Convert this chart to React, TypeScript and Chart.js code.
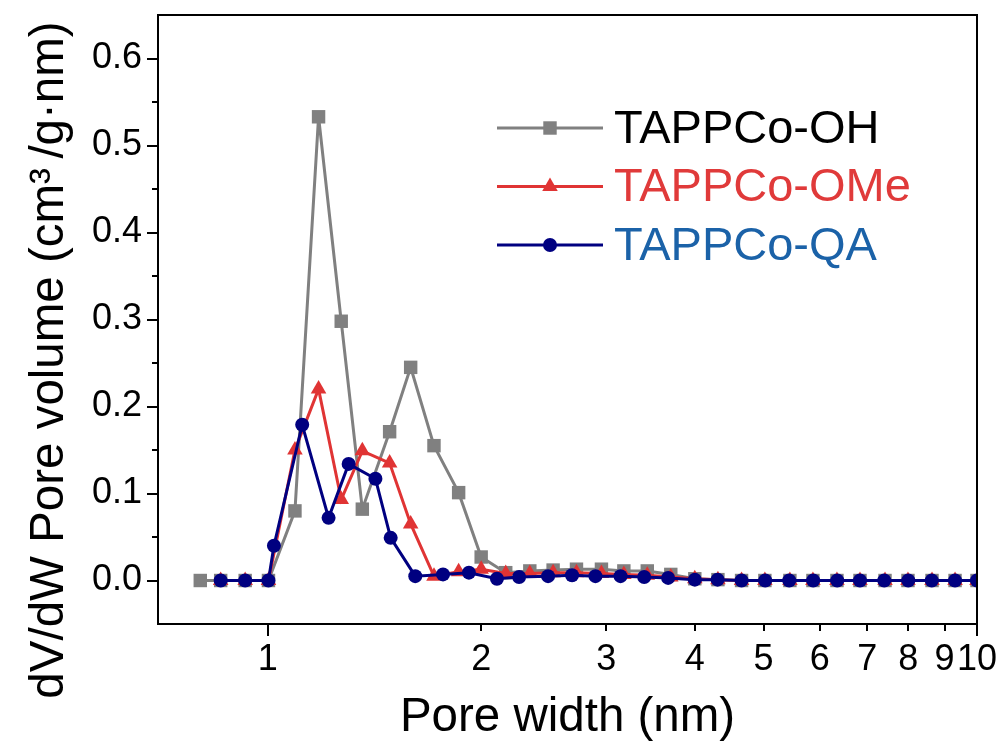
import { useEffect, useRef } from 'react';
import { Chart, registerables } from 'chart.js';

Chart.register(...registerables);

// Pore width (nm) and dV/dW (cm³/g·nm) for each sample
const poreWidthOH = [0.803, 0.858, 0.929, 1.002, 1.092, 1.179, 1.269, 1.359, 1.485, 1.59, 1.715, 1.858, 1.999, 2.165, 2.341, 2.525, 2.724, 2.954, 3.177, 3.428, 3.7, 4.0, 4.312, 4.656, 5.022, 5.447, 5.87, 6.346, 6.839, 7.418, 7.992, 8.641, 9.312, 10.0];
const dvOH = [0, 0, 0, 0, 0.08, 0.533, 0.298, 0.082, 0.171, 0.245, 0.155, 0.101, 0.027, 0.009, 0.011, 0.012, 0.013, 0.013, 0.011, 0.011, 0.007, 0.002, 0.001, 0, 0, 0, 0, 0, 0, 0, 0, 0, 0, 0];

const poreWidthOMe = [0.858, 0.929, 1.002, 1.092, 1.179, 1.269, 1.359, 1.485, 1.59, 1.715, 1.858, 1.999, 2.165, 2.341, 2.525, 2.724, 2.954, 3.177, 3.428, 3.7, 4.0, 4.312, 4.656, 5.022, 5.447, 5.87, 6.346, 6.839, 7.418, 7.992, 8.641, 9.312, 10.0];
const dvOMe = [0, 0, 0, 0.15, 0.22, 0.093, 0.149, 0.135, 0.065, 0.005, 0.01, 0.013, 0.008, 0.008, 0.009, 0.009, 0.008, 0.007, 0.006, 0.004, 0.002, 0.001, 0, 0, 0, 0, 0, 0, 0, 0, 0, 0, 0];

const poreWidthQA = [0.858, 0.929, 1.002, 1.02, 1.118, 1.218, 1.3, 1.418, 1.49, 1.614, 1.766, 1.921, 2.104, 2.261, 2.484, 2.685, 2.897, 3.143, 3.394, 3.668, 4.0, 4.307, 4.656, 5.027, 5.435, 5.875, 6.352, 6.838, 7.4, 8.0, 8.634, 9.312, 10.0];
const dvQA = [0, 0, 0, 0.04, 0.179, 0.072, 0.134, 0.117, 0.049, 0.005, 0.007, 0.009, 0.002, 0.004, 0.005, 0.006, 0.005, 0.005, 0.004, 0.003, 0.001, 0.001, 0, 0, 0, 0, 0, 0, 0, 0, 0, 0, 0];

const seriesNames = ['TAPPCo-OH', 'TAPPCo-OMe', 'TAPPCo-QA'];
const legendTextColors = ['#000000', '#E03A3A', '#1B62A8'];

const xTickValues = [1, 2, 3, 4, 5, 6, 7, 8, 9, 10];
const yTickValues = [0, 0.1, 0.2, 0.3, 0.4, 0.5, 0.6];
const yMinorTickValues = [0.05, 0.15, 0.25, 0.35, 0.45, 0.55];

const yTitle = 'dV/dW Pore volume (cm\u00B3\u2009/g·nm)';
const xTitle = 'Pore width (nm)';

const SANS = "'Liberation Sans', Arial, sans-serif";

const toPoints = (xs: number[], ys: number[]) => xs.map((x, i) => ({ x, y: ys[i] }));

function drawMarker(ctx: CanvasRenderingContext2D, style: string, x: number, y: number, r: number) {
  ctx.beginPath();
  if (style === 'rect') {
    const h = Math.SQRT1_2 * r;
    ctx.rect(x - h, y - h, 2 * h, 2 * h);
  } else if (style === 'triangle') {
    ctx.moveTo(x, y - r);
    ctx.lineTo(x + r * Math.sin((2 * Math.PI) / 3), y + r / 2);
    ctx.lineTo(x - r * Math.sin((2 * Math.PI) / 3), y + r / 2);
    ctx.closePath();
  } else {
    ctx.arc(x, y, r, 0, Math.PI * 2);
  }
  ctx.fill();
}

// Box frame plus outward major/minor tick marks
const framePlugin = {
  id: 'frameTicks',
  afterDraw(chart: any) {
    const { ctx, chartArea, scales } = chart;
    const { left, right, top, bottom } = chartArea;
    ctx.save();
    ctx.strokeStyle = '#000';
    ctx.lineWidth = 2;
    ctx.beginPath();
    ctx.moveTo(left, bottom);
    ctx.lineTo(left, top);
    ctx.lineTo(right, top);
    ctx.lineTo(right, bottom);
    ctx.closePath();
    ctx.stroke();
    ctx.beginPath();
    yTickValues.forEach((v) => {
      const py = Math.round(scales.y.getPixelForValue(v));
      ctx.moveTo(left - 11, py);
      ctx.lineTo(left, py);
    });
    yMinorTickValues.forEach((v) => {
      const py = Math.round(scales.y.getPixelForValue(v));
      ctx.moveTo(left - 6, py);
      ctx.lineTo(left, py);
    });
    xTickValues.forEach((v) => {
      const px = Math.round(scales.x.getPixelForValue(v));
      const len = v === 1 || v === 10 ? 12 : 7;
      ctx.moveTo(px, bottom);
      ctx.lineTo(px, bottom + len);
    });
    ctx.stroke();
    ctx.restore();
  },
};

// Rotated y-axis title
const yTitlePlugin = {
  id: 'yTitle',
  afterDraw(chart: any, _args: any, opts: any) {
    const { ctx } = chart;
    ctx.save();
    ctx.translate(opts.x, opts.y);
    ctx.rotate(-Math.PI / 2);
    ctx.font = `${opts.size}px ${SANS}`;
    ctx.fillStyle = '#000';
    ctx.textAlign = 'center';
    ctx.textBaseline = 'middle';
    ctx.fillText(opts.text, 0, 0);
    ctx.restore();
  },
};

// Legend: line segment with centred marker and coloured label
const legendPlugin = {
  id: 'lineLegend',
  afterDraw(chart: any, _args: any, opts: any) {
    const { ctx } = chart;
    ctx.save();
    chart.data.datasets.forEach((ds: any, i: number) => {
      const y = opts.top + i * opts.rowGap;
      ctx.strokeStyle = ds.borderColor;
      ctx.lineWidth = ds.borderWidth;
      ctx.beginPath();
      ctx.moveTo(opts.lineStart, y);
      ctx.lineTo(opts.lineEnd, y);
      ctx.stroke();
      ctx.fillStyle = ds.backgroundColor;
      drawMarker(ctx, ds.pointStyle, (opts.lineStart + opts.lineEnd) / 2, y, ds.pointRadius);
      ctx.fillStyle = legendTextColors[i];
      ctx.font = `${opts.size}px ${SANS}`;
      ctx.textAlign = 'left';
      ctx.textBaseline = 'middle';
      ctx.fillText(ds.label, opts.textX, y + 2);
    });
    ctx.restore();
  },
};

export default function App() {
  const canvasRef = useRef<HTMLCanvasElement | null>(null);

  useEffect(() => {
    if (!canvasRef.current) return;
    const chart = new Chart(canvasRef.current, {
      type: 'line',
      data: {
        datasets: [
          {
            label: seriesNames[0],
            data: toPoints(poreWidthOH, dvOH),
            borderColor: '#808080',
            backgroundColor: '#808080',
            pointStyle: 'rect',
            pointRadius: 9.5,
            pointBorderWidth: 0,
            borderWidth: 3,
            order: 3,
          },
          {
            label: seriesNames[1],
            data: toPoints(poreWidthOMe, dvOMe),
            borderColor: '#E03434',
            backgroundColor: '#E03434',
            pointStyle: 'triangle',
            pointRadius: 9,
            pointBorderWidth: 0,
            borderWidth: 3,
            order: 2,
          },
          {
            label: seriesNames[2],
            data: toPoints(poreWidthQA, dvQA),
            borderColor: '#000080',
            backgroundColor: '#000080',
            pointStyle: 'circle',
            pointRadius: 7,
            pointBorderWidth: 0,
            borderWidth: 3,
            order: 1,
          },
        ],
      },
      options: {
        responsive: false,
        animation: false,
        layout: { padding: { top: 15, right: 24, left: 0, bottom: 0 } },
        plugins: {
          legend: { display: false },
          tooltip: { enabled: false },
          yTitle: { text: yTitle, x: 50, y: 360, size: 47.5 },
          lineLegend: { top: 128, rowGap: 58.5, lineStart: 497, lineEnd: 603, textX: 614, size: 47 },
        } as any,
        scales: {
          x: {
            type: 'logarithmic',
            min: 0.7,
            max: 10,
            afterBuildTicks: (s: any) => {
              s.ticks = xTickValues.map((v) => ({ value: v }));
            },
            afterFit: (s: any) => {
              s.height = 129;
              s.paddingLeft = 0;
              s.paddingRight = 0;
            },
            ticks: {
              callback: (v: any) => String(v),
              autoSkip: false,
              maxRotation: 0,
              minRotation: 0,
              padding: 14,
              color: '#000',
              font: { family: SANS, size: 36 },
            },
            grid: { display: false, drawTicks: false },
            border: { display: false },
            title: {
              display: true,
              text: xTitle,
              color: '#000',
              font: { family: SANS, size: 47.5 },
              padding: { top: 0, bottom: 7 },
            },
          },
          y: {
            type: 'linear',
            min: -0.05,
            max: 0.65,
            afterBuildTicks: (s: any) => {
              s.ticks = yTickValues.map((v) => ({ value: v }));
            },
            afterFit: (s: any) => {
              s.width = 158;
              s.paddingTop = 0;
              s.paddingBottom = 0;
            },
            ticks: {
              callback: (v: any) => Number(v).toFixed(1),
              padding: 16,
              color: '#000',
              font: { family: SANS, size: 36 },
            },
            grid: { display: false, drawTicks: false },
            border: { display: false },
          },
        },
      },
      plugins: [framePlugin, yTitlePlugin, legendPlugin],
    });
    return () => chart.destroy();
  }, []);

  return (
    <div style={{ position: 'absolute', left: 0, top: 0, width: 1001, height: 753, background: '#fff' }}>
      <canvas ref={canvasRef} width={1001} height={753} style={{ display: 'block' }} />
    </div>
  );
}
